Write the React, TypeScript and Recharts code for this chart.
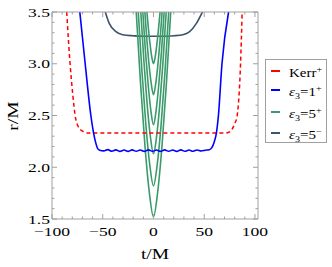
import { LineChart, Line, XAxis, YAxis } from "recharts";

// Kerr+ (red dashed)
const kerrT = [-85.5, -82.2, -79.5, -77.2, -74.5, -71.6, -68, -65, -40, 0, 40, 70, 73.5, 77, 80, 82.5, 85.8, 87.4];
const kerrR = [3.5, 3.0, 2.7, 2.5, 2.4, 2.36, 2.34, 2.33, 2.33, 2.33, 2.33, 2.33, 2.335, 2.36, 2.42, 2.5, 3.0, 3.5];

// eps3 = 1+ (blue, small ripples on plateau)
const eps1T = [-72.6, -67.3, -61.7, -59, -57, -55, -53, -49, -45, -41, -37, -33, -29, -25, -21, -17, -13, -9, -5, -1, 3, 7, 11, 15, 19, 23, 27, 31, 35, 39, 43, 47, 51, 55, 57.5, 59.7, 62, 64, 67.5, 74];
const eps1R = [3.5, 3.0, 2.5, 2.33, 2.24, 2.18, 2.165, 2.158, 2.17, 2.155, 2.168, 2.153, 2.167, 2.153, 2.168, 2.154, 2.167, 2.153, 2.168, 2.154, 2.167, 2.153, 2.168, 2.154, 2.167, 2.153, 2.168, 2.154, 2.166, 2.155, 2.167, 2.157, 2.165, 2.17, 2.19, 2.24, 2.33, 2.5, 3.0, 3.5];

// eps3 = 5- (dark slate)
const eps5mT = [-47.5, -43.6, -37, -30.4, -20, -10, 0, 10, 20, 29, 35.6, 42.3, 48.2];
const eps5mR = [3.5, 3.39, 3.31, 3.28, 3.27, 3.265, 3.265, 3.265, 3.27, 3.28, 3.31, 3.39, 3.5];

// eps3 = 5+ (green), one list per orbit
const greenT = [
  [-17, -12.75, -8.5, -4.25, 0, 4.25, 8.5, 12.75, 17],
  [-15, -11.25, -7.5, -3.75, 0, 3.75, 7.5, 11.25, 15],
  [-12.5, -9.4, -6.25, -3.1, 0, 3.1, 6.25, 9.4, 12.5],
  [-10.5, -7.9, -5.25, -2.6, 0, 2.6, 5.25, 7.9, 10.5],
  [-8.5, -6.4, -4.25, -2.1, 0, 2.1, 4.25, 6.4, 8.5],
  [-6.5, -4.9, -3.25, -1.6, 0, 1.6, 3.25, 4.9, 6.5],
];
const greenR = [
  [3.5, 2.81, 2.22, 1.77, 1.52, 1.77, 2.22, 2.81, 3.5],
  [3.5, 2.91, 2.41, 2.03, 1.82, 2.03, 2.41, 2.91, 3.5],
  [3.5, 3.02, 2.61, 2.3, 2.13, 2.3, 2.61, 3.02, 3.5],
  [3.5, 3.12, 2.8, 2.55, 2.41, 2.55, 2.8, 3.12, 3.5],
  [3.5, 3.22, 2.98, 2.8, 2.7, 2.8, 2.98, 3.22, 3.5],
  [3.5, 3.33, 3.18, 3.06, 3.0, 3.06, 3.18, 3.33, 3.5],
];

const xTicks = [-100, -90, -80, -70, -60, -50, -40, -30, -20, -10, 0, 10, 20, 30, 40, 50, 60, 70, 80, 90, 100];
const yTicks = [1.5, 1.6, 1.7, 1.8, 1.9, 2.0, 2.1, 2.2, 2.3, 2.4, 2.5, 2.6, 2.7, 2.8, 2.9, 3.0, 3.1, 3.2, 3.3, 3.4, 3.5];

const legendItems = [
  { color: "#ff0000", base: "Kerr", sub: "", sup: "+", val: "" },
  { color: "#0000ff", base: "\u03b5", sub: "3", sup: "+", val: "=1" },
  { color: "#3a9a6a", base: "\u03b5", sub: "3", sup: "+", val: "=5" },
  { color: "#3b536b", base: "\u03b5", sub: "3", sup: "\u2212", val: "=5" },
];
const legendRowTop = [10, 29, 51, 72];

const toPts = (ts: number[], rs: number[]) => ts.map((t, i) => ({ t, r: rs[i] }));

const FONT = "'Liberation Serif', 'DejaVu Serif', serif";
const FRAME = "#a0a0a0";

const fmtX = (v: number) => (v < 0 ? "\u2212" + Math.abs(v) : String(v));
const isMajorY = (v: number) => Math.abs(v * 2 - Math.round(v * 2)) < 1e-6;

const BottomTick = (p: any) => {
  const v = p.payload.value;
  const major = v % 50 === 0;
  return (
    <g>
      <line x1={p.x} x2={p.x} y1={p.y} y2={p.y - (major ? 5 : 2.5)} stroke={FRAME} />
      {major && (
        <text transform={`translate(${p.x},${p.y + 16.5}) scale(1.3,1)`} textAnchor="middle" fontFamily={FONT} fontSize={13.5} fill="#000">
          {fmtX(v)}
        </text>
      )}
    </g>
  );
};

const TopTick = (p: any) => {
  const major = p.payload.value % 50 === 0;
  return <line x1={p.x} x2={p.x} y1={p.y} y2={p.y + (major ? 5 : 2.5)} stroke={FRAME} />;
};

const LeftTick = (p: any) => {
  const v = p.payload.value;
  const major = isMajorY(v);
  return (
    <g>
      <line x1={p.x} x2={p.x + (major ? 5 : 2.5)} y1={p.y} y2={p.y} stroke={FRAME} />
      {major && (
        <text transform={`translate(${p.x - 2},${p.y + 4.5}) scale(1.3,1)`} textAnchor="end" fontFamily={FONT} fontSize={13.5} fill="#000">
          {v.toFixed(1)}
        </text>
      )}
    </g>
  );
};

const RightTick = (p: any) => {
  const major = isMajorY(p.payload.value);
  return <line x1={p.x} x2={p.x - (major ? 5 : 2.5)} y1={p.y} y2={p.y} stroke={FRAME} />;
};

export default function App() {
  return (
    <div style={{ position: "absolute", left: 0, top: 0, width: 332, height: 267, background: "#fff", fontFamily: FONT }}>
      <LineChart width={332} height={267} margin={{ top: 11, left: 51, right: 73, bottom: 47 }}>
        <XAxis dataKey="t" type="number" domain={[-100, 103]} allowDataOverflow ticks={xTicks} interval={0}
          height={1} tickSize={0} tickMargin={0} tickLine={false} axisLine={{ stroke: FRAME }} tick={BottomTick} />
        <XAxis xAxisId="top" orientation="top" dataKey="t" type="number" domain={[-100, 103]} allowDataOverflow ticks={xTicks} interval={0}
          height={1} tickSize={0} tickMargin={0} tickLine={false} axisLine={{ stroke: FRAME }} tick={TopTick} />
        <YAxis type="number" domain={[1.5, 3.5]} allowDataOverflow ticks={yTicks} interval={0}
          width={1} tickSize={0} tickMargin={0} tickLine={false} axisLine={{ stroke: FRAME }} tick={LeftTick} />
        <YAxis yAxisId="right" orientation="right" type="number" domain={[1.5, 3.5]} allowDataOverflow ticks={yTicks} interval={0}
          width={1} tickSize={0} tickMargin={0} tickLine={false} axisLine={{ stroke: FRAME }} tick={RightTick} />

        <Line data={toPts(eps5mT, eps5mR)} dataKey="r" type="monotone" stroke="#3b536b" strokeWidth={1.6} dot={false} isAnimationActive={false} />
        {greenT.map((ts, i) => (
          <Line key={i} data={toPts(ts, greenR[i])} dataKey="r" type="monotone" stroke="#3a9a6a" strokeWidth={1.6} dot={false} isAnimationActive={false} />
        ))}
        <Line data={toPts(kerrT, kerrR)} dataKey="r" type="monotone" stroke="#ff0000" strokeWidth={1.5} strokeDasharray="4 3" dot={false} isAnimationActive={false} />
        <Line data={toPts(eps1T, eps1R)} dataKey="r" type="monotone" stroke="#0000ff" strokeWidth={1.6} dot={false} isAnimationActive={false} />
      </LineChart>

      <div style={{ position: "absolute", left: 155, top: 246, transform: "translateX(-50%) scaleX(1.3)", fontSize: 15, whiteSpace: "nowrap" }}>t/M</div>
      <div style={{ position: "absolute", left: 13, top: 116, transform: "translate(-50%,-50%) rotate(-90deg) scaleX(1.3)", fontSize: 15, whiteSpace: "nowrap" }}>r/M</div>

      <div style={{ position: "absolute", left: 265, top: 59, width: 62, height: 84, border: `1px solid ${FRAME}`, background: "#fff", boxSizing: "border-box" }}>
        {legendItems.map((it, i) => (
          <div key={i} style={{ position: "absolute", left: 0, top: legendRowTop[i], height: 0 }}>
            <div style={{ position: "absolute", left: 5, top: 0, width: 9, height: 2, background: it.color }} />
            <div style={{ position: "absolute", left: 23, top: -8, fontSize: 12, whiteSpace: "nowrap", transform: "scaleX(1.25)", transformOrigin: "left", lineHeight: "16px" }}>
              {it.base === "Kerr" ? (
                <span>Kerr<sup style={{ fontSize: 8 }}>{it.sup}</sup></span>
              ) : (
                <span>
                  <i>{it.base}</i><sub style={{ fontSize: 8 }}>{it.sub}</sub>{it.val}<sup style={{ fontSize: 8 }}>{it.sup}</sup>
                </span>
              )}
            </div>
          </div>
        ))}
      </div>
    </div>
  );
}
